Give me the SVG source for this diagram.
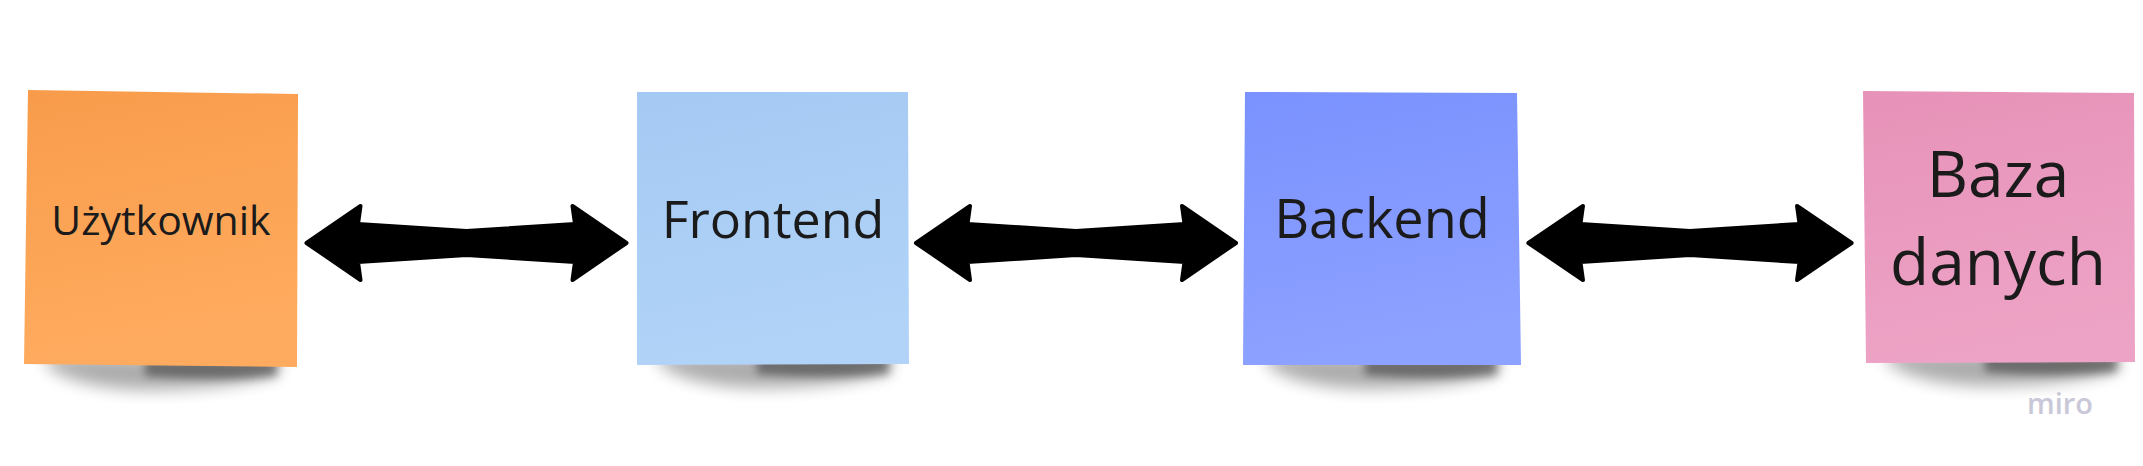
<svg xmlns="http://www.w3.org/2000/svg" width="2143" height="466" viewBox="0 0 2143 466">
  <style>
    .lbl { font-family: "Open Sans", "Noto Sans", "DejaVu Sans", sans-serif; fill: #1b1b1b; text-anchor: middle; }
    .shA { fill: #000; opacity: 0.32; filter: url(#blurA); }
    .shB { fill: #000; opacity: 0.38; filter: url(#blurB); }
    .arrow { fill: #000; stroke: #000; stroke-width: 4; stroke-linejoin: round; }
  </style>
  <defs>
    <filter id="blurA" x="-20%" y="-200%" width="140%" height="500%">
      <feGaussianBlur stdDeviation="8"/>
    </filter>
    <filter id="blurB" x="-20%" y="-200%" width="140%" height="500%">
      <feGaussianBlur stdDeviation="4"/>
    </filter>
    <linearGradient id="gOrange" x1="0" y1="0" x2="0.2" y2="1">
      <stop offset="0" stop-color="#F89C4B"/>
      <stop offset="1" stop-color="#FFAB5F"/>
    </linearGradient>
    <linearGradient id="gBlue" x1="0" y1="0" x2="0.2" y2="1">
      <stop offset="0" stop-color="#A5C9F3"/>
      <stop offset="1" stop-color="#B1D3F8"/>
    </linearGradient>
    <linearGradient id="gIndigo" x1="0" y1="0" x2="0.2" y2="1">
      <stop offset="0" stop-color="#7A92FF"/>
      <stop offset="1" stop-color="#8DA1FF"/>
    </linearGradient>
    <linearGradient id="gPink" x1="0" y1="0" x2="0.2" y2="1">
      <stop offset="0" stop-color="#E792B8"/>
      <stop offset="1" stop-color="#EDA3C5"/>
    </linearGradient>
    <g id="sh">
      <path class="shA" d="M 22,-10 L 254,-10 L 254,8 Q 200,24 120,24 Q 50,22 22,0 Z"/>
      <path class="shB" d="M 120,-8 L 252,-8 L 252,10 Q 200,16 120,10 Z"/>
    </g>
    <path id="arr" class="arrow" d="M -160,0 L -106,-37 L -108.5,-19 L 0,-12 L 108.5,-19 L 106,-37 L 160,0 L 106,37 L 108.5,19 L 0,12 L -108.5,19 L -106,37 Z"/>
  </defs>

  <rect width="2143" height="466" fill="#ffffff"/>

  <g id="node-uzytkownik">
    <use href="#sh" x="25" y="366"/>
    <polygon points="28,90 298,94 297,367 24,364" fill="url(#gOrange)"/>
    <text class="lbl" x="161" y="235" font-size="41">Użytkownik</text>
  </g>

  <g id="node-frontend">
    <use href="#sh" x="637" y="364"/>
    <polygon points="637,92 908,92 909,364 637,365" fill="url(#gBlue)"/>
    <text class="lbl" x="773" y="238" font-size="52">Frontend</text>
  </g>

  <g id="node-backend">
    <use href="#sh" x="1245" y="365"/>
    <polygon points="1245,92 1517,93 1521,365 1243,365" fill="url(#gIndigo)"/>
    <text class="lbl" x="1382" y="238" font-size="54">Backend</text>
  </g>

  <g id="node-baza">
    <use href="#sh" x="1865" y="362"/>
    <polygon points="1863,91 2134,93 2135,362 1866,363" fill="url(#gPink)"/>
    <text class="lbl" x="1998" y="197" font-size="64">Baza</text>
    <text class="lbl" x="1998" y="285" font-size="64">danych</text>
  </g>

  <g id="connectors">
    <use href="#arr" transform="translate(466.5,243)"/>
    <use href="#arr" transform="translate(1076,243)"/>
    <use href="#arr" transform="translate(1690,243) scale(1.01,1)"/>
  </g>

  <text x="2060" y="414" font-family="'Open Sans', 'Noto Sans', sans-serif" font-weight="600" font-size="29" fill="#C9C8D8" text-anchor="middle">miro</text>
</svg>
